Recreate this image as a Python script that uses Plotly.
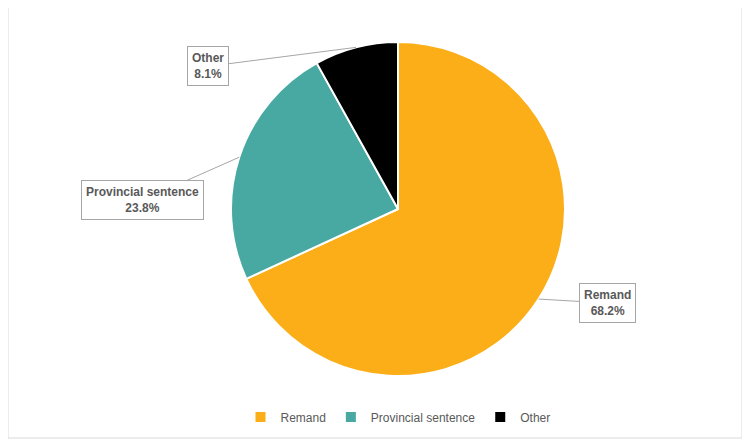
import math
import plotly.graph_objects as go

labels = ["Remand", "Provincial sentence", "Other"]
values = [68.2, 23.8, 8.1]
colors = ["#FBAE17", "#48A9A2", "#000000"]

# pie geometry in pixels (750x444 page); page body adds ~8px offset
W, H = 750, 444
OFF = 8
cx, cy, r = 398 - OFF, 209 - OFF, 167
# label box offsets from the slice edge (pixels)
offsets = [(69, 4), (-97, 43), (-148, 19)]

fig = go.Figure(go.Pie(
    labels=labels, values=values, sort=False, direction="clockwise", rotation=0,
    marker=dict(colors=colors, line=dict(color="white", width=2)),
    textinfo="none", hoverinfo="label+percent",
    domain=dict(x=[(cx - r) / W, (cx + r) / W], y=[1 - (cy + r) / H, 1 - (cy - r) / H]),
))

total = sum(values)
start = 0.0
for lab, v, (ax, ay) in zip(labels, values, offsets):
    mid = (start + v / 2) / total * 2 * math.pi
    start += v
    px = cx + r * math.sin(mid)
    py = cy - r * math.cos(mid)
    fig.add_annotation(
        x=px / W, y=1 - py / H, xref="paper", yref="paper",
        text=f"<b>{lab}<br>{v:.1f}%</b>", showarrow=True, arrowhead=0,
        arrowcolor="#a6a6a6", arrowwidth=1, ax=ax, ay=ay,
        bordercolor="#a6a6a6", borderwidth=1, borderpad=4, bgcolor="white",
        font=dict(size=12, color="#595959"), align="center",
    )

fig.add_shape(type="rect", xref="paper", yref="paper", x0=(8 - OFF) / W, x1=(742 - OFF) / W,
              y0=1 - (438 - OFF) / H, y1=1 - (5 - OFF + 1) / H, line=dict(color="#d9d9d9", width=1))

fig.update_layout(
    width=W, height=H, margin=dict(l=0, r=0, t=0, b=0),
    paper_bgcolor="white", font=dict(family="Liberation Sans", color="#595959"),
    legend=dict(orientation="h", x=(398 - OFF) / W, xanchor="center", y=1 - (417 - OFF) / H,
                yanchor="middle", font=dict(size=12, color="#595959")),
)
fig.write_html("out.html")
